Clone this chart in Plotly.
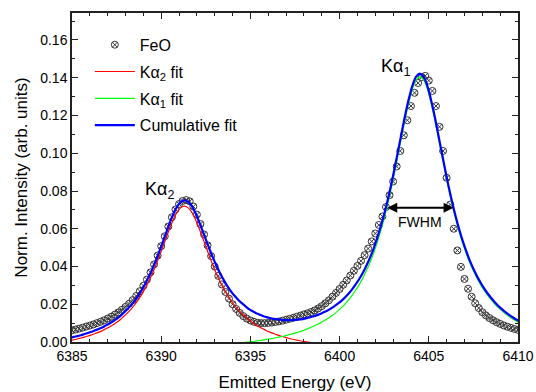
import numpy as np
import plotly.graph_objects as go

# Measured FeO K-alpha emission spectrum (0.2 eV steps)
energy_start, energy_step = 6385.0, 0.2
feo_intensity = [
    0.0062, 0.0066, 0.0071, 0.0076, 0.0082, 0.0087, 0.0093, 0.0100, 0.0107, 0.0115,
    0.0124, 0.0134, 0.0145, 0.0157, 0.0171, 0.0186, 0.0203, 0.0222, 0.0244, 0.0269,
    0.0298, 0.0331, 0.0369, 0.0411, 0.0458, 0.0508, 0.0560, 0.0612, 0.0661, 0.0702,
    0.0731, 0.0747, 0.0752, 0.0745, 0.0718, 0.0675, 0.0625, 0.0570, 0.0512, 0.0455,
    0.0400, 0.0350, 0.0305, 0.0265, 0.0230, 0.0200, 0.0175, 0.0154, 0.0137, 0.0124,
    0.0114, 0.0107, 0.0102, 0.0100, 0.0100, 0.0101, 0.0103, 0.0106, 0.0109, 0.0113,
    0.0118, 0.0123, 0.0128, 0.0134, 0.0140, 0.0146, 0.0152, 0.0159, 0.0167, 0.0178,
    0.0190, 0.0205, 0.0221, 0.0240, 0.0260, 0.0281, 0.0303, 0.0326, 0.0352, 0.0377,
    0.0403, 0.0430, 0.0460, 0.0495, 0.0533, 0.0575, 0.0620, 0.0665, 0.0715, 0.0778,
    0.0850, 0.0930, 0.1012, 0.1095, 0.1175, 0.1250, 0.1320, 0.1372, 0.1403, 0.1410,
    0.1385, 0.1330, 0.1250, 0.1140, 0.1012, 0.0870, 0.0728, 0.0600, 0.0485, 0.0398,
    0.0334, 0.0282, 0.0240, 0.0205, 0.0180, 0.0158, 0.0141, 0.0127, 0.0115, 0.0105,
    0.0096, 0.0088, 0.0081, 0.0075, 0.0069, 0.0064,
]

# Fit components sampled on a 0.2 eV grid starting at 6384.9 eV
fit_start, fit_step = 6384.9, 0.2
ka2_fit = [
    0.0008, 0.0012, 0.0016, 0.0021, 0.0026, 0.0032, 0.0038, 0.0045, 0.0052, 0.0060,
    0.0070, 0.0080, 0.0091, 0.0104, 0.0118, 0.0135, 0.0153, 0.0173, 0.0196, 0.0222,
    0.0251, 0.0284, 0.0321, 0.0362, 0.0407, 0.0455, 0.0506, 0.0558, 0.0608, 0.0653,
    0.0689, 0.0712, 0.0720, 0.0712, 0.0689, 0.0653, 0.0608, 0.0558, 0.0506, 0.0455,
    0.0407, 0.0362, 0.0321, 0.0284, 0.0251, 0.0222, 0.0196, 0.0173, 0.0153, 0.0135,
    0.0118, 0.0104, 0.0091, 0.0080, 0.0070, 0.0060, 0.0052, 0.0045, 0.0038, 0.0032,
    0.0026, 0.0021, 0.0016, 0.0012, 0.0008, 0.0004, 0.0001, -0.0002, -0.0005, -0.0008,
    -0.0010,
]
ka1_fit_offset = 48  # first grid index of the K-alpha1 component
ka1_fit = [
    -0.0004, -0.0002, 0.0000, 0.0002, 0.0005, 0.0008, 0.0010, 0.0014, 0.0017, 0.0020,
    0.0024, 0.0028, 0.0032, 0.0037, 0.0042, 0.0047, 0.0053, 0.0059, 0.0066, 0.0074,
    0.0082, 0.0091, 0.0100, 0.0111, 0.0122, 0.0135, 0.0149, 0.0165, 0.0182, 0.0201,
    0.0223, 0.0247, 0.0274, 0.0304, 0.0338, 0.0377, 0.0420, 0.0469, 0.0524, 0.0586,
    0.0655, 0.0732, 0.0816, 0.0907, 0.1003, 0.1100, 0.1194, 0.1278, 0.1346, 0.1390,
    0.1405, 0.1390, 0.1346, 0.1278, 0.1194, 0.1100, 0.1003, 0.0907, 0.0816, 0.0732,
    0.0655, 0.0586, 0.0524, 0.0469, 0.0420, 0.0377, 0.0338, 0.0304, 0.0274, 0.0247,
    0.0223, 0.0201, 0.0182, 0.0165, 0.0149, 0.0135, 0.0122, 0.0111, 0.0100,
]
cumulative_fit = [
    0.0022, 0.0027, 0.0031, 0.0036, 0.0042, 0.0048, 0.0054, 0.0062, 0.0069, 0.0077,
    0.0088, 0.0098, 0.0110, 0.0123, 0.0137, 0.0155, 0.0173, 0.0194, 0.0217, 0.0244,
    0.0274, 0.0307, 0.0345, 0.0386, 0.0432, 0.0481, 0.0532, 0.0585, 0.0636, 0.0682,
    0.0718, 0.0742, 0.0751, 0.0744, 0.0722, 0.0687, 0.0643, 0.0594, 0.0544, 0.0494,
    0.0447, 0.0404, 0.0364, 0.0329, 0.0297, 0.0270, 0.0246, 0.0225, 0.0207, 0.0191,
    0.0176, 0.0164, 0.0154, 0.0146, 0.0138, 0.0132, 0.0127, 0.0123, 0.0120, 0.0118,
    0.0116, 0.0116, 0.0116, 0.0117, 0.0119, 0.0121, 0.0125, 0.0130, 0.0135, 0.0141,
    0.0148, 0.0157, 0.0166, 0.0177, 0.0189, 0.0203, 0.0218, 0.0236, 0.0256, 0.0279,
    0.0305, 0.0334, 0.0366, 0.0404, 0.0446, 0.0494, 0.0549, 0.0610, 0.0678, 0.0754,
    0.0837, 0.0928, 0.1023, 0.1119, 0.1213, 0.1296, 0.1364, 0.1407, 0.1422, 0.1406,
    0.1362, 0.1293, 0.1209, 0.1114, 0.1017, 0.0921, 0.0829, 0.0745, 0.0668, 0.0598,
    0.0536, 0.0481, 0.0431, 0.0388, 0.0349, 0.0315, 0.0284, 0.0257, 0.0233, 0.0211,
    0.0191, 0.0174, 0.0158, 0.0144, 0.0131, 0.0119, 0.0108,
]

x_ticks = [6385, 6390, 6395, 6400, 6405, 6410]
y_ticks = [0.00, 0.02, 0.04, 0.06, 0.08, 0.10, 0.12, 0.14, 0.16]

feo_energy = np.round(energy_start + energy_step * np.arange(len(feo_intensity)), 2)
fit_energy = np.round(fit_start + fit_step * np.arange(len(cumulative_fit)), 2)
ka2_energy = fit_energy[: len(ka2_fit)]
ka1_energy = fit_energy[ka1_fit_offset: ka1_fit_offset + len(ka1_fit)]

# FWHM of the K-alpha1 line, taken from the cumulative fit
cum = np.array(cumulative_fit)
ipk = int(np.argmax(cum))
half_max = cum[ipk] / 2
fwhm_left = np.interp(half_max, cum[: ipk + 1], fit_energy[: ipk + 1])
fwhm_right = np.interp(half_max, cum[ipk:][::-1], fit_energy[ipk:][::-1])

FONT = "Liberation Sans, Arial, sans-serif"

fig = go.Figure()
fig.add_trace(go.Scatter(
    x=feo_energy, y=feo_intensity, mode="markers", name="FeO", legendgroup="g1",
    marker=dict(symbol="circle-x-open", size=7, color="#333333", line=dict(width=1, color="#333333")),
))
fig.add_trace(go.Scatter(
    x=ka2_energy, y=ka2_fit, mode="lines", name="K\u03b1<sub>2</sub> fit", legendgroup="g2",
    line=dict(color="#ff0000", width=1.2, shape="spline"),
))
fig.add_trace(go.Scatter(
    x=ka1_energy, y=ka1_fit, mode="lines", name="K\u03b1<sub>1</sub> fit", legendgroup="g3",
    line=dict(color="#00ff00", width=1.2, shape="spline"),
))
fig.add_trace(go.Scatter(
    x=fit_energy, y=cumulative_fit, mode="lines", name="Cumulative fit", legendgroup="g4",
    line=dict(color="#0000ff", width=2.2, shape="spline"),
))

# Peak labels
fig.add_annotation(x=6389.9, y=0.0805, text="K\u03b1<sub>2</sub>", showarrow=False,
                   font=dict(family=FONT, size=18, color="black"))
fig.add_annotation(x=6403.15, y=0.1455, text="K\u03b1<sub>1</sub>", showarrow=False,
                   font=dict(family=FONT, size=18, color="black"))

# Double-headed FWHM arrow
fig.add_annotation(x=fwhm_right, y=half_max, ax=fwhm_left, ay=half_max,
                   xref="x", yref="y", axref="x", ayref="y", text="",
                   showarrow=True, arrowhead=2, startarrowhead=2, arrowside="end+start",
                   arrowsize=1, arrowwidth=2, arrowcolor="black")
fig.add_annotation(x=(fwhm_left + fwhm_right) / 2, y=half_max - 0.0075, text="FWHM",
                   showarrow=False, font=dict(family=FONT, size=14, color="black"))

axis_common = dict(
    showline=True, linecolor="#222222", linewidth=1.5, mirror="allticks",
    ticks="inside", ticklen=6, tickwidth=1, tickcolor="#222222",
    showgrid=False, zeroline=False, automargin=False,
    tickfont=dict(family=FONT, size=14, color="black"),
)

fig.update_layout(
    width=536, height=392,
    margin=dict(l=72, r=18, t=13, b=50),
    paper_bgcolor="white", plot_bgcolor="white",
    font=dict(family=FONT, color="black"),
    showlegend=True,
    legend=dict(x=0.04, y=0.955, xanchor="left", yanchor="top",
                bgcolor="rgba(0,0,0,0)", borderwidth=0, itemwidth=40,
                font=dict(family=FONT, size=16, color="black"),
                tracegroupgap=3),
    xaxis=dict(range=[6385, 6410], tickvals=x_ticks,
               minor=dict(dtick=1, ticks="inside", ticklen=3, tickcolor="#222222"),
               title=dict(text="Emitted Energy (eV)", font=dict(family=FONT, size=17), standoff=14),
               **axis_common),
    yaxis=dict(range=[0, 0.1743], tickvals=y_ticks, tickformat=".2f",
               minor=dict(dtick=0.01, ticks="inside", ticklen=3, tickcolor="#222222"),
               title=dict(text="Norm. Intensity (arb. units)", font=dict(family=FONT, size=17), standoff=8),
               **axis_common),
)

fig.write_html("out.html")
